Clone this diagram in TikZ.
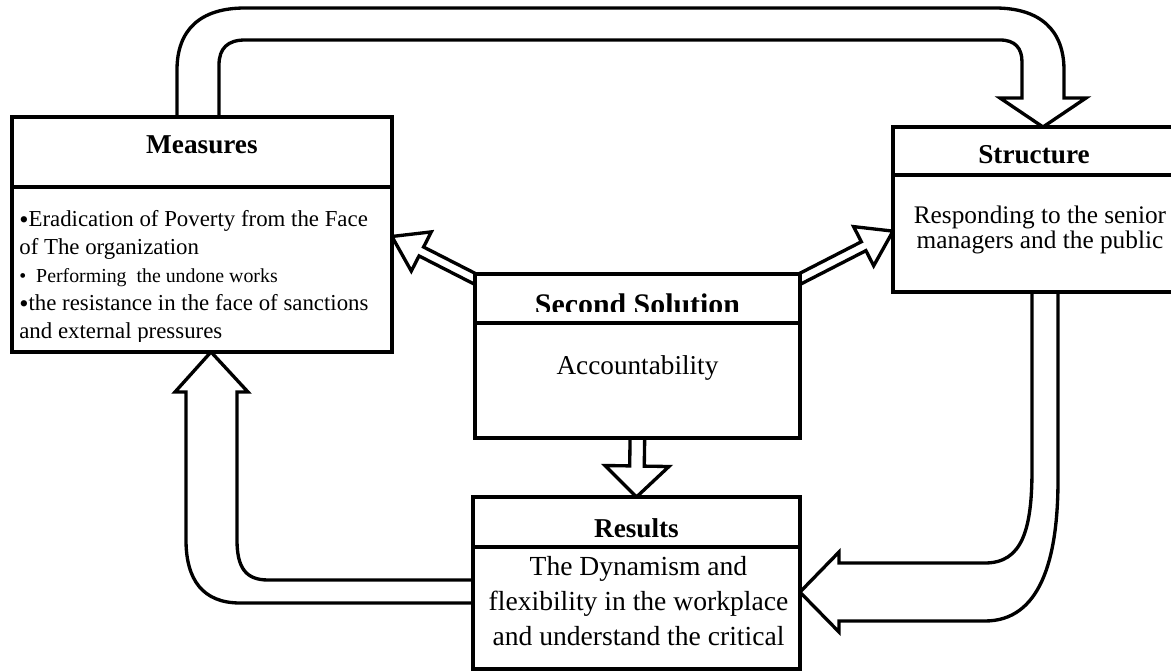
\documentclass[tikz,border=0pt]{standalone}
\usepackage{fontspec}
\setmainfont{Liberation Serif}
\usetikzlibrary{calc,backgrounds}
\tikzset{
  boxline/.style={draw, line width=2.4pt, fill=white, inner sep=0pt, outer sep=0pt},
  arrowline/.style={draw, line width=1.9pt, fill=white, line join=miter},
  titletext/.style={font=\fontsize{15.5}{18}\selectfont\bfseries, inner sep=0pt},
  plaintext/.style={font=\fontsize{15.5}{19.8}\selectfont, align=center, inner sep=0pt}
}
% straight block arrow: start, tip, shaft half width, head half width, head length
\newcommand{\blockarrow}[5]{%
  \coordinate (ba-s) at (#1);
  \coordinate (ba-t) at (#2);
  \coordinate (ba-b) at ($(ba-t)!#5!(ba-s)$);
  \draw[arrowline] ($(ba-s)!#3!90:(ba-t)$) -- ($(ba-b)!#3!-90:(ba-s)$) -- ($(ba-b)!#4!-90:(ba-s)$) -- (ba-t)
     -- ($(ba-b)!#4!90:(ba-s)$) -- ($(ba-b)!#3!90:(ba-s)$) -- ($(ba-s)!#3!-90:(ba-t)$) -- cycle;}
\newcommand{\bigbul}{\raisebox{-1.2pt}{\fontsize{15}{15.9}\selectfont\textbullet}}
\begin{document}
\begin{tikzpicture}[x=0.02cm,y=-0.02cm]
\useasboundingbox (0,0) rectangle (1171,672);
% the four boxes
\node[boxline, minimum width=7.6cm, minimum height=1.4cm, anchor=north west] (meashead) at (12,117) {};
\node[boxline, minimum width=7.6cm, minimum height=3.3cm, anchor=north] (measbody) at (meashead.south) {};
\node[boxline, minimum width=6.5cm, minimum height=0.98cm, anchor=north west] (sechead) at (475,274) {};
\node[boxline, minimum width=6.5cm, minimum height=2.3cm, anchor=north] (secbody) at (sechead.south) {};
\node[boxline, minimum width=6.3cm, minimum height=0.96cm, anchor=north west] (strhead) at (893,127) {};
\node[boxline, minimum width=6.3cm, minimum height=2.34cm, anchor=north] (strbody) at (strhead.south) {};
\node[boxline, minimum width=6.54cm, minimum height=1.0cm, anchor=north west] (reshead) at (473,497) {};
\node[boxline, minimum width=6.54cm, minimum height=2.44cm, anchor=north] (resbody) at (reshead.south) {};
% texts
\node[titletext] (meastitle) at ($(meashead.center)+(0,-7)$) {Measures};
\begin{scope}
  \clip (measbody.north west) rectangle ($(measbody.south east)+(0,-10)$);
  \node[anchor=north west, align=left, inner sep=0pt, font=\fontsize{13}{15.9}\selectfont] (meastext) at (19,210)
    {\bigbul Eradication of Poverty from the Face\\
     of The organization\\
     {\fontsize{11.3}{15.9}\selectfont\textbullet\ \ Performing\ \ the undone works}\\
     \bigbul the resistance in the face of sanctions\\
     and external pressures};
\end{scope}
\begin{scope}
  \clip (sechead.north west) rectangle ($(sechead.south east)+(0,-11)$);
  \node[titletext, font=\fontsize{17}{20}\selectfont\bfseries] (sectitle) at ($(sechead.center)+(0,6)$) {Second Solution};
\end{scope}
\node[plaintext] (sectext) at ($(secbody.center)+(0,-12)$) {Accountability};
\node[titletext] (strtitle) at ($(strhead.north west)+(141,28)$) {Structure};
\node[plaintext, font=\fontsize{14.4}{14.7}\selectfont] (strtext) at ($(strbody.north west)+(147,55)$)
  {Responding to the senior\\managers and the public};
\node[titletext] (restitle) at ($(reshead.center)+(0,6)$) {Results};
\node[plaintext, font=\fontsize{15.7}{19.85}\selectfont] (restext) at ($(resbody.center)+(2,-7)$)
  {The Dynamism and\\flexibility in the workplace\\and understand the critical};
% block arrows behind the boxes
\begin{scope}[on background layer]
  \coordinate (atip) at ($(strhead.north west)+(150,0)$);
  \draw[arrowline] (177,121) -- (177,70) .. controls (177,30) and (200,8) .. (245,8) -- (995,8)
    .. controls (1040,8) and (1064,30) .. (1064,70) -- (1064,98) -- (1086,98) -- (atip) -- (1000,98) -- (1022,98)
    -- (1022,62) .. controls (1022,48) and (1015,40) .. (1000,40) -- (245,40)
    .. controls (228,40) and (219,48) .. (219,65) -- (219,121) -- cycle;
  \coordinate (rbtip) at ($(resbody.north east)!0.37!(resbody.south east)$);
  \draw[arrowline] (1032,288) -- (1032,470) .. controls (1032,530) and (1022,563) .. (985,563) -- (839,563)
    -- (839,552) -- (rbtip) -- (839,632) -- (839,621) -- (985,621)
    .. controls (1040,621) and (1058,560) .. (1058,480) -- (1058,288) -- cycle;
  \coordinate (lbtip) at ($(measbody.south west)+(199,0)$);
  \draw[arrowline] (lbtip) -- (248,392) -- (237,392) -- (237,540) .. controls (237,568) and (246,580) .. (268,580)
    -- (477,580) -- (477,603) -- (240,603) .. controls (203,603) and (186,580) .. (186,540)
    -- (186,392) -- (175,392) -- cycle;
  \coordinate (lstart) at ($(sechead.north west)+(10,10)$);
  \coordinate (ltip) at ($(measbody.north east)!0.3!(measbody.south east)$);
  \blockarrow{lstart}{ltip}{0.1cm}{0.44cm}{0.66cm}
  \coordinate (rstart) at ($(sechead.north east)+(-10,10)$);
  \coordinate (rtip) at ($(strbody.north west)!0.48!(strbody.south west)$);
  \blockarrow{rstart}{rtip}{0.1cm}{0.44cm}{0.66cm}
  \coordinate (dstart) at ($(secbody.south)+(0,-4)$);
  \blockarrow{dstart}{reshead.north}{0.146cm}{0.64cm}{0.62cm}
\end{scope}
\end{tikzpicture}
\end{document}
